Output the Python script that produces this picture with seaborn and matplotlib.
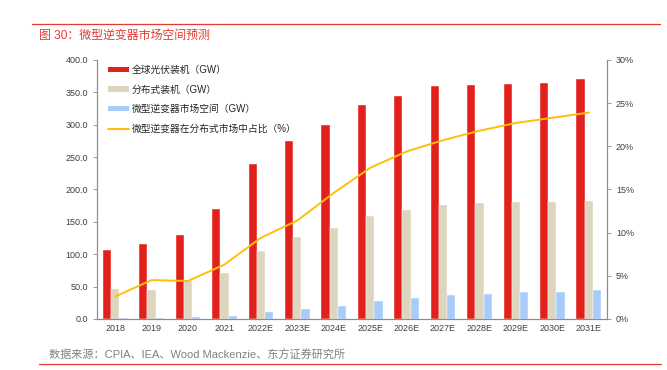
import pandas as pd
import seaborn as sns
import matplotlib.pyplot as plt
from matplotlib.lines import Line2D
from matplotlib.patches import Patch
from matplotlib.ticker import FuncFormatter, MultipleLocator

# data
years = ['2018', '2019', '2020', '2021', '2022E', '2023E', '2024E',
         '2025E', '2026E', '2027E', '2028E', '2029E', '2030E', '2031E']
global_pv = [106, 115, 130, 170, 240, 275, 300, 330, 345, 360, 361, 363, 365, 370]
distributed_pv = [46, 45, 58, 71, 105, 127, 140, 159, 168, 176, 179, 180, 180, 182]
micro_inv = [1, 1.5, 2.5, 4, 10, 15, 20, 28, 33, 37, 39, 42, 42, 44]
micro_share = [2.6, 4.5, 4.4, 6.3, 9.4, 11.4, 14.6, 17.5, 19.4, 20.7, 21.8, 22.7, 23.3, 23.9]

names = ['全球光伏装机（GW）', '分布式装机（GW）', '微型逆变器市场空间（GW）']
line_name = '微型逆变器在分布式市场中占比（%）'
colors = ['#E3211C', '#DED5BF', '#A8CCF9']
line_color = '#FFBE0A'

bars_df = pd.DataFrame({
    'year': years * 3,
    'value': global_pv + distributed_pv + micro_inv,
    'series': [names[0]] * len(years) + [names[1]] * len(years) + [names[2]] * len(years),
})
line_df = pd.DataFrame({'year': years, 'share': micro_share})

sns.set_style('white')
plt.rcParams['font.family'] = ['Liberation Sans', 'Noto Sans CJK SC', 'DejaVu Sans']
plt.rcParams['axes.unicode_minus'] = False

fig = plt.figure(figsize=(6.67, 3.70), dpi=100)
ax = fig.add_axes([0.1454, 0.138, 0.7646, 0.700])

sns.barplot(data=bars_df, x='year', y='value', hue='series', palette=colors,
            saturation=1, width=0.68, gap=0, edgecolor='#FFFFFF', linewidth=0.3,
            legend=False, ax=ax)
ax.set_ylim(0, 400)
ax.yaxis.set_major_locator(MultipleLocator(50))
ax.yaxis.set_major_formatter(FuncFormatter(lambda v, p: f'{v:.1f}'))
ax.set_xlabel('')
ax.set_ylabel('')

ax2 = ax.twinx()
sns.lineplot(data=line_df, x='year', y='share', color=line_color, lw=1.4,
             sort=False, ax=ax2)
ax2.set_ylim(0, 30)
ax2.yaxis.set_major_locator(MultipleLocator(5))
ax2.yaxis.set_major_formatter(FuncFormatter(lambda v, p: f'{v:.0f}%'))
ax2.set_ylabel('')
ax.set_xlim(-0.5, len(years) - 0.5)

grey = '#8C8C8C'
for a in (ax, ax2):
    for s in a.spines.values():
        s.set_color(grey)
        s.set_linewidth(0.8)
    a.spines['top'].set_visible(False)
    a.tick_params(labelsize=6.5, colors='#404040', length=3, width=0.6)
    a.tick_params(axis='both', color=grey)

# ticks at category boundaries on the x axis
ax.set_xticks([i + 0.5 for i in range(len(years) - 1)], minor=True)
ax.tick_params(axis='x', which='major', length=0)
ax.tick_params(axis='x', which='minor', length=3, color=grey, width=0.6)
ax.tick_params(axis='y', which='both', left=True)
ax2.tick_params(axis='y', right=True)

handles = [Patch(facecolor=c, edgecolor='none') for c in colors]
handles.append(Line2D([0], [0], color=line_color, lw=1.4))
leg = ax2.legend(handles, names + [line_name], loc='upper left',
                 bbox_to_anchor=(0.005, 1.015), frameon=False, fontsize=7,
                 handlelength=2.1, handleheight=0.45, labelspacing=1.0,
                 handletextpad=0.35)
for t in leg.get_texts():
    t.set_color('#262626')

# header and footer
fig.add_artist(Line2D([32 / 667, 660 / 667], [1 - 24 / 370] * 2, color='#E8382F', lw=0.9))
fig.text(39 / 667, 1 - 36 / 370, '图 30：微型逆变器市场空间预测', color='#E8382F',
         fontsize=8.6, va='center', ha='left')
fig.text(49 / 667, 1 - 355 / 370, '数据来源：CPIA、IEA、Wood Mackenzie、东方证券研究所',
         color='#808080', fontsize=8, va='center', ha='left')
fig.add_artist(Line2D([39 / 667, 661 / 667], [1 - 364 / 370] * 2, color='#E8382F', lw=0.9))

fig.savefig('out.png', dpi=100)
